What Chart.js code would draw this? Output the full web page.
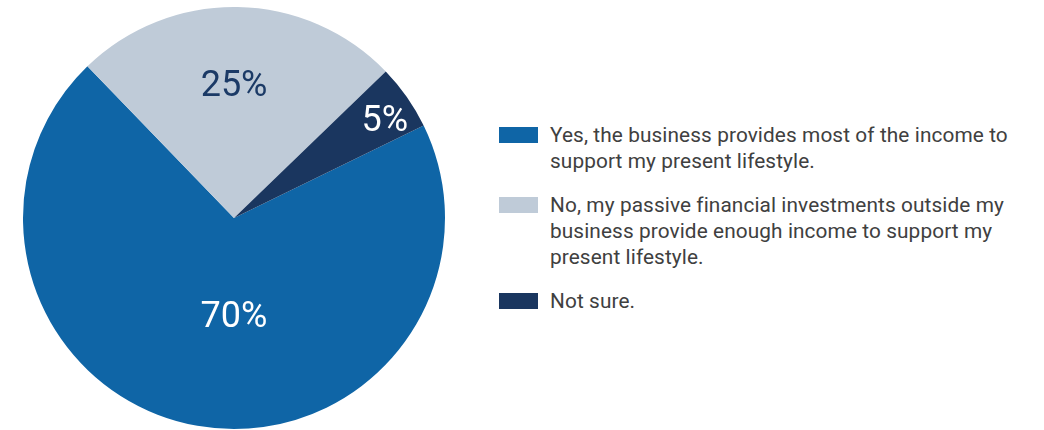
<!DOCTYPE html>
<html>
<head>
<meta charset="utf-8">
<script src="https://cdn.jsdelivr.net/npm/chart.js@4.4.1/dist/chart.umd.min.js"></script>
<style>
  html, body { margin: 0; padding: 0; background: #ffffff; }
  body { width: 1044px; height: 430px; position: relative; overflow: hidden; font-family: Roboto, "Noto Sans", sans-serif; }
  #wrap { position: absolute; left: 0; top: 0; width: 468px; height: 430px; }
  #legend { position: absolute; left: 499px; top: 122px; width: 545px; color: #404040; font-size: 20.8px; line-height: 26px; letter-spacing: 0.1px; white-space: nowrap; }
  .item { display: flex; align-items: flex-start; margin-bottom: 18px; }
  .box { width: 39px; height: 16px; flex: none; margin-top: 5px; margin-right: 12px; }
</style>
</head>
<body>
<div id="wrap"><canvas id="c"></canvas></div>
<div id="legend"></div>
<script>
const categories = [
  ["Yes, the business provides most of the income to", "support my present lifestyle."],
  ["No, my passive financial investments outside my", "business provide enough income to support my", "present lifestyle."],
  ["Not sure."]
];
const values = [70, 25, 5];
const valueLabels = ["70%", "25%", "5%"];
const colors = ["#0f65a6", "#bfcbd8", "#1a365f"];
const labelColors = ["#ffffff", "#1b3a66", "#ffffff"];
const labelRadius = [0.454, 0.641, 0.858];
const labelAngleShift = [-0.1745, -0.017, 0.024];

const legend = document.getElementById('legend');
categories.forEach((lines, i) => {
  const item = document.createElement('div');
  item.className = 'item';
  const box = document.createElement('div');
  box.className = 'box';
  box.style.background = colors[i];
  const txt = document.createElement('div');
  lines.forEach((l, j) => {
    if (j) txt.appendChild(document.createElement('br'));
    txt.appendChild(document.createTextNode(l));
  });
  item.appendChild(box); item.appendChild(txt);
  legend.appendChild(item);
});

const labelPlugin = {
  id: 'sliceLabels',
  afterDatasetsDraw(chart) {
    const ctx = chart.ctx;
    const meta = chart.getDatasetMeta(0);
    const size = 36;
    ctx.save();
    ctx.font = '400 ' + size + 'px Roboto, "Noto Sans", sans-serif';
    ctx.textAlign = 'center';
    ctx.textBaseline = 'alphabetic';
    meta.data.forEach((arc, i) => {
      const p = arc.getProps(['x','y','startAngle','endAngle','outerRadius'], true);
      const mid = (p.startAngle + p.endAngle) / 2 + labelAngleShift[i];
      const r = p.outerRadius * labelRadius[i];
      ctx.fillStyle = labelColors[i];
      ctx.fillText(valueLabels[i], p.x + Math.cos(mid) * r, p.y + Math.sin(mid) * r + size * 0.355);
    });
    ctx.restore();
  }
};

new Chart(document.getElementById('c'), {
  type: 'pie',
  data: {
    labels: categories.map(l => l.join(' ')),
    datasets: [{ data: values, backgroundColor: colors, borderWidth: 0 }]
  },
  options: {
    responsive: true,
    maintainAspectRatio: false,
    animation: false,
    rotation: 64,
    layout: { padding: { top: 7, bottom: 1, left: 0, right: 0 } },
    plugins: { legend: { display: false }, tooltip: { enabled: false } }
  },
  plugins: [labelPlugin]
});
</script>
</body>
</html>
